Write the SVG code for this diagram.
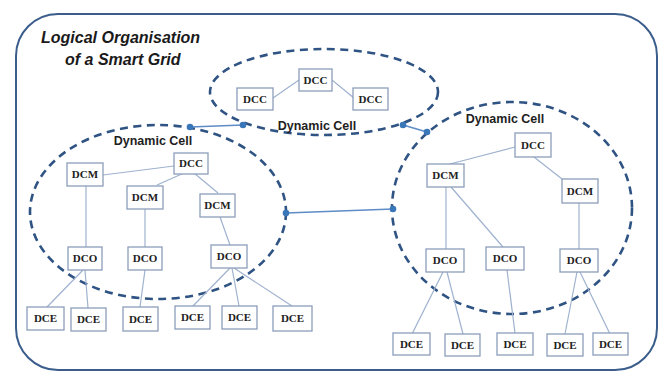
<svg xmlns="http://www.w3.org/2000/svg" width="660" height="374" viewBox="0 0 660 374">
  <style>
    .frame { fill: #ffffff; stroke: #3b5d8c; stroke-width: 2; }
    .cell { fill: none; stroke: #2f5383; stroke-width: 2.6; stroke-dasharray: 8 5.5; }
    .box { fill: #ffffff; stroke: #8c9dba; stroke-width: 1.3; }
    .lbl { font-family: "Liberation Serif", "Times New Roman", serif; font-weight: bold; font-size: 11px; fill: #222222; text-anchor: middle; }
    .cellname { font-family: "Liberation Sans", Arial, sans-serif; font-weight: bold; font-size: 12.5px; fill: #1e1e1e; text-anchor: middle; }
    .title { font-family: "Liberation Sans", Arial, sans-serif; font-weight: bold; font-style: italic; font-size: 16px; fill: #1a1a1a; }
    .edge { stroke: #9fb2cf; stroke-width: 1.2; fill: none; }
    .link { stroke: #5d8cc6; stroke-width: 1.4; fill: none; }
    .dot { fill: #3a77b9; }
  </style>

  <rect width="660" height="374" fill="#ffffff"/>
  <!-- outer frame -->
  <rect class="frame" x="16" y="14" width="641" height="356" rx="42" ry="42"/>

  <text class="title" x="41" y="43">Logical Organisation</text>
  <text class="title" x="65" y="65">of a Smart Grid</text>

  <!-- dynamic cells -->
  <g id="cell-top">
    <ellipse class="cell" cx="324" cy="92" rx="114" ry="43"/>
    <text class="cellname" x="317" y="130">Dynamic Cell</text>
  </g>
  <g id="cell-left">
    <ellipse class="cell" cx="158" cy="212" rx="128" ry="87"/>
    <text class="cellname" x="153" y="145">Dynamic Cell</text>
  </g>
  <g id="cell-right">
    <ellipse class="cell" cx="512" cy="208" rx="120" ry="106"/>
    <text class="cellname" x="505" y="123">Dynamic Cell</text>
  </g>

  <!-- connectors -->
  <g id="connectors">
    <!-- top cell -->
    <line class="edge" x1="273" y1="98" x2="299" y2="80"/>
    <line class="edge" x1="332" y1="80" x2="354" y2="98"/>
    <!-- left cell -->
    <line class="edge" x1="103" y1="175" x2="174" y2="166"/>
    <line class="edge" x1="157" y1="185" x2="184" y2="173"/>
    <line class="edge" x1="194" y1="173" x2="218" y2="193"/>
    <line class="edge" x1="86" y1="186" x2="86" y2="247"/>
    <line class="edge" x1="145" y1="209" x2="145" y2="247"/>
    <line class="edge" x1="220" y1="217" x2="230" y2="245"/>
    <line class="edge" x1="83" y1="270" x2="47" y2="307"/>
    <line class="edge" x1="85" y1="270" x2="88" y2="308"/>
    <line class="edge" x1="145" y1="270" x2="140" y2="307"/>
    <line class="edge" x1="230" y1="268" x2="193" y2="306"/>
    <line class="edge" x1="232" y1="268" x2="239" y2="306"/>
    <line class="edge" x1="234" y1="268" x2="292" y2="306"/>
    <!-- right cell -->
    <line class="edge" x1="450" y1="164" x2="515" y2="147"/>
    <line class="edge" x1="534" y1="157" x2="562" y2="179"/>
    <line class="edge" x1="446" y1="187" x2="446" y2="249"/>
    <line class="edge" x1="451" y1="187" x2="503" y2="247"/>
    <line class="edge" x1="579" y1="203" x2="579" y2="249"/>
    <line class="edge" x1="443" y1="272" x2="412" y2="334"/>
    <line class="edge" x1="447" y1="272" x2="463" y2="334"/>
    <line class="edge" x1="507" y1="270" x2="515" y2="333"/>
    <line class="edge" x1="577" y1="272" x2="565" y2="334"/>
    <line class="edge" x1="580" y1="272" x2="610" y2="334"/>
    <!-- links between cells -->
    <line class="link" x1="190" y1="127" x2="243" y2="125"/>
    <line class="link" x1="403" y1="125" x2="427" y2="132"/>
    <line class="link" x1="286" y1="213" x2="393" y2="209"/>
    <circle class="dot" cx="190" cy="127" r="3.3"/>
    <circle class="dot" cx="243" cy="125" r="3.3"/>
    <circle class="dot" cx="403" cy="125" r="3.3"/>
    <circle class="dot" cx="427" cy="132" r="3.3"/>
    <circle class="dot" cx="286" cy="213" r="3.3"/>
    <circle class="dot" cx="393" cy="209" r="3.3"/>
  </g>

  <!-- top cell nodes -->
  <g id="t-dcc1"><rect class="box" x="237" y="88" width="36" height="22"/><text class="lbl" x="255" y="103">DCC</text></g>
  <g id="t-dcc2"><rect class="box" x="299" y="69" width="33" height="22"/><text class="lbl" x="315.5" y="84">DCC</text></g>
  <g id="t-dcc3"><rect class="box" x="353" y="88" width="35" height="22"/><text class="lbl" x="370.5" y="103">DCC</text></g>

  <!-- left cell nodes -->
  <g id="l-dcc"><rect class="box" x="174" y="153" width="34" height="21"/><text class="lbl" x="191" y="167">DCC</text></g>
  <g id="l-dcm1"><rect class="box" x="67" y="163" width="36" height="23"/><text class="lbl" x="85" y="178">DCM</text></g>
  <g id="l-dcm2"><rect class="box" x="127" y="186" width="36" height="23"/><text class="lbl" x="145" y="201">DCM</text></g>
  <g id="l-dcm3"><rect class="box" x="200" y="194" width="35" height="23"/><text class="lbl" x="217.5" y="209">DCM</text></g>
  <g id="l-dco1"><rect class="box" x="68" y="247" width="34" height="23"/><text class="lbl" x="85" y="262">DCO</text></g>
  <g id="l-dco2"><rect class="box" x="128" y="247" width="34" height="23"/><text class="lbl" x="145" y="262">DCO</text></g>
  <g id="l-dco3"><rect class="box" x="211" y="245" width="36" height="23"/><text class="lbl" x="229" y="260">DCO</text></g>
  <g id="l-dce1"><rect class="box" x="27" y="307" width="37" height="23"/><text class="lbl" x="45.5" y="322">DCE</text></g>
  <g id="l-dce2"><rect class="box" x="71" y="308" width="35" height="23"/><text class="lbl" x="88.5" y="323">DCE</text></g>
  <g id="l-dce3"><rect class="box" x="123" y="307" width="35" height="24"/><text class="lbl" x="140.5" y="323">DCE</text></g>
  <g id="l-dce4"><rect class="box" x="175" y="306" width="35" height="23"/><text class="lbl" x="192.5" y="321">DCE</text></g>
  <g id="l-dce5"><rect class="box" x="222" y="306" width="35" height="23"/><text class="lbl" x="239.5" y="321">DCE</text></g>
  <g id="l-dce6"><rect class="box" x="273" y="306" width="39" height="25"/><text class="lbl" x="292.5" y="322">DCE</text></g>

  <!-- right cell nodes -->
  <g id="r-dcc"><rect class="box" x="515" y="133" width="36" height="24"/><text class="lbl" x="533" y="149">DCC</text></g>
  <g id="r-dcm1"><rect class="box" x="427" y="164" width="37" height="23"/><text class="lbl" x="445.5" y="179">DCM</text></g>
  <g id="r-dcm2"><rect class="box" x="562" y="179" width="36" height="24"/><text class="lbl" x="580" y="195">DCM</text></g>
  <g id="r-dco1"><rect class="box" x="426" y="249" width="38" height="23"/><text class="lbl" x="445" y="264">DCO</text></g>
  <g id="r-dco2"><rect class="box" x="486" y="247" width="38" height="23"/><text class="lbl" x="505" y="262">DCO</text></g>
  <g id="r-dco3"><rect class="box" x="560" y="249" width="38" height="23"/><text class="lbl" x="579" y="264">DCO</text></g>
  <g id="r-dce1"><rect class="box" x="393" y="333" width="37" height="22"/><text class="lbl" x="411.5" y="348">DCE</text></g>
  <g id="r-dce2"><rect class="box" x="445" y="334" width="35" height="22"/><text class="lbl" x="462.5" y="349">DCE</text></g>
  <g id="r-dce3"><rect class="box" x="497" y="333" width="36" height="22"/><text class="lbl" x="515" y="348">DCE</text></g>
  <g id="r-dce4"><rect class="box" x="547" y="334" width="36" height="22"/><text class="lbl" x="565" y="349">DCE</text></g>
  <g id="r-dce5"><rect class="box" x="593" y="333" width="35" height="22"/><text class="lbl" x="610.5" y="348">DCE</text></g>
</svg>
